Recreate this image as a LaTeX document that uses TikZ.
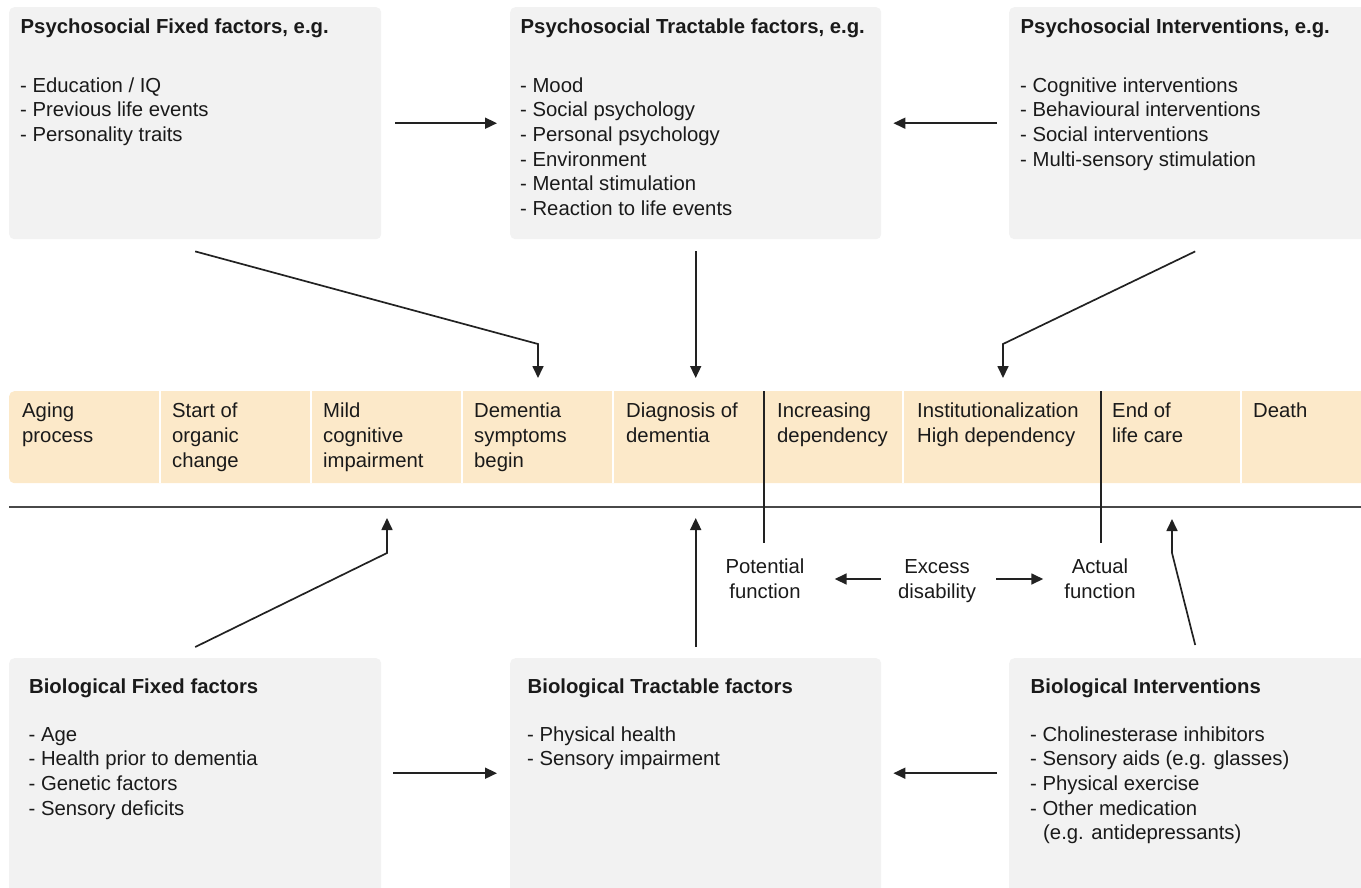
\documentclass[tikz,border=0pt]{standalone}
\usepackage{fontspec}
\setmainfont{Liberation Sans}
\usetikzlibrary{arrows.meta}

\definecolor{panelgray}{RGB}{242,242,242}
\definecolor{bandpeach}{RGB}{252,233,201}
\definecolor{ink}{RGB}{26,26,26}
\definecolor{wire}{RGB}{34,34,34}
\definecolor{axisgray}{RGB}{72,72,72}

\tikzset{
  txt/.style={anchor=base west, inner sep=0pt, text=ink,
    font=\fontsize{20.3}{24.7}\selectfont},
  head/.style={txt, font=\fontsize{20.3}{24.7}\selectfont\bfseries},
  midtxt/.style={inner sep=0pt, text=ink, align=center,
    font=\fontsize{20.3}{25}\selectfont},
  panel/.style={fill=panelgray, rounded corners=5pt, inner sep=0pt,
    anchor=north west},
  bandbox/.style={fill=bandpeach, rounded corners=5pt, inner sep=0pt,
    anchor=north west, minimum height=92pt},
  link/.style={draw=wire, line width=1.7pt,
    -{Triangle[length=12pt,width=11pt]}},
  plainline/.style={draw=wire, line width=1.7pt},
  axisline/.style={draw=axisgray, line width=2pt},
}

% one text node per line, baselines a fixed distance apart
\newcommand\linestack[4]{%
  \foreach \t [count=\k from 0] in {#4}{%
    \node[txt] (#1-\k) at (#2,{#3+24.7*\k}) {\t};}}
\newcommand\linestackb[4]{%
  \foreach \t [count=\k from 0] in {#4}{%
    \node[txt] (#1-\k) at (#2,{#3+25*\k}) {\t};}}

\begin{document}
\begin{tikzpicture}[x=1pt,y=-1pt]
\useasboundingbox (0,0) rectangle (1361,887);
\clip (0,0) rectangle (1361,887);

% ---------- panels ----------
\node[panel, minimum width=372pt, minimum height=232pt] (ptf) at (9,7) {};
\node[panel, minimum width=371pt, minimum height=232pt] (ptt) at (510,7) {};
\node[panel, minimum width=372pt, minimum height=232pt] (pti) at (1009,7) {};
\node[panel, minimum width=372pt, minimum height=240pt] (bf) at (9,658) {};
\node[panel, minimum width=371pt, minimum height=240pt] (bt) at (510,658) {};
\node[panel, minimum width=372pt, minimum height=240pt] (bi) at (1009,658) {};

% ---------- panel texts ----------
\node[head] (ptf-h) at (20.5,33) {Psychosocial Fixed factors, e.g.};
\linestack{ptfl}{20}{92}{- Education / IQ,- Previous life events,- Personality traits}

\node[head] (ptt-h) at (520.5,33) {Psychosocial Tractable factors, e.g.};
\linestack{pttl}{520}{92}{- Mood,- Social psychology,- Personal psychology,- Environment,- Mental stimulation,- Reaction to life events}

\node[head] (pti-h) at (1020.5,33) {Psychosocial Interventions, e.g.};
\linestack{ptil}{1020}{92}{- Cognitive interventions,- Behavioural interventions,- Social interventions,- Multi-sensory stimulation}

\node[head] (bf-h) at (29,693) {Biological Fixed factors};
\linestack{bfl}{28.5}{741}{- Age,- Health prior to dementia,- Genetic factors,- Sensory deficits}

\node[head] (bt-h) at (527.5,693) {Biological Tractable factors};
\linestack{btl}{527}{741}{- Physical health,- Sensory impairment}

\node[head] (bi-h) at (1030.5,693) {Biological Interventions};
\linestack{bil}{1030}{741}{- Cholinesterase inhibitors,- Sensory aids (e.g. glasses),- Physical exercise,- Other medication,\hspace*{13pt}(e.g. antidepressants)}

% ---------- timeline band ----------
\node[bandbox, minimum width=1380pt] (band) at (9,391) {};
\foreach \x in {160,311,462,613,903,1241}
  \draw[white, line width=2pt] (\x,391) -- (\x,483);

\linestackb{s1}{22}{417}{Aging,process}
\linestackb{s2}{172}{417}{Start of,organic,change}
\linestackb{s3}{323}{417}{Mild,cognitive,impairment}
\linestackb{s4}{474}{417}{Dementia,symptoms,begin}
\linestackb{s5}{626}{417}{Diagnosis of,dementia}
\linestackb{s6}{777}{417}{Increasing,dependency}
\linestackb{s7}{917}{417}{Institutionalization,High dependency}
\linestackb{s8}{1112}{417}{End of,life care}
\linestackb{s9}{1253}{417}{Death}

% ---------- axis and function markers ----------
\coordinate (axL) at (9,507);
\coordinate (axR) at (1361,507);
\draw[axisline] (axL) -- (axR);

\coordinate (v1) at (764,543);
\coordinate (v2) at (1101,543);
\draw[plainline] (v1 |- band.north) -- (v1);
\draw[plainline] (v2 |- band.north) -- (v2);

\node[midtxt] (pot) at (765,579) {Potential\\function};
\node[midtxt] (exc) at (937,581) {Excess\\disability};
\node[midtxt] (act) at (1100,579) {Actual\\function};
\draw[link, shorten <=17pt, shorten >=30pt]
  ([yshift=2pt]exc.west) -- ([yshift=0pt]pot.east);
\draw[link, shorten <=20pt, shorten >=21pt]
  ([yshift=2pt]exc.east) -- (act.west);

% ---------- horizontal connectors between panels ----------
\draw[link, shorten <=14pt, shorten >=13pt] (ptf.east) -- (ptt.west);
\draw[link, shorten <=12pt, shorten >=12pt] (pti.west) -- (ptt.east);
\draw[link, shorten <=12pt, shorten >=13pt]
  ([yshift=5pt]bf.east) -- ([yshift=5pt]bt.west);
\draw[link, shorten <=12pt, shorten >=12pt]
  ([yshift=5pt]bi.west) -- ([yshift=5pt]bt.east);

% ---------- connectors into the timeline ----------
\coordinate (k1) at (538,344);
\draw[link, shorten >=13pt] ([yshift=-12pt]ptf.south) -- (k1) -- (k1 |- band.north);
\draw[link, shorten <=12pt, shorten >=13pt] (ptt.south) -- (ptt.south |- band.north);
\coordinate (k2) at (1003,344);
\draw[link, shorten >=13pt] ([yshift=-12pt]pti.south) -- (k2) -- (k2 |- band.north);

\coordinate (k3) at (387,553);
\draw[link, shorten >=11pt] ([yshift=11pt]bf.north) -- (k3) -- (k3 |- axL);
\draw[link, shorten <=11pt, shorten >=11pt] (bt.north) -- (bt.north |- axL);
\coordinate (k4) at (1172,553);
\draw[link, shorten >=12pt] ([yshift=13pt]bi.north) -- (k4) -- (k4 |- axL);
\end{tikzpicture}
\end{document}
